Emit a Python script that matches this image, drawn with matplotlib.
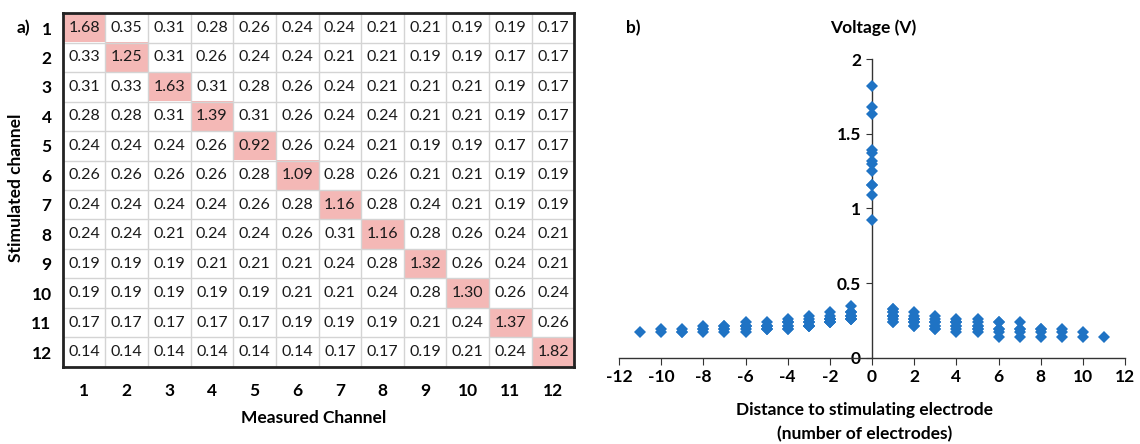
import matplotlib
matplotlib.use("Agg")
import matplotlib.pyplot as plt
import numpy as np

plt.rcParams['font.family'] = ['Lato', 'DejaVu Sans']

# ---- data ----
channels = list(range(1, 13))
voltage = [
    [1.68, 0.35, 0.31, 0.28, 0.26, 0.24, 0.24, 0.21, 0.21, 0.19, 0.19, 0.17],
    [0.33, 1.25, 0.31, 0.26, 0.24, 0.24, 0.21, 0.21, 0.19, 0.19, 0.17, 0.17],
    [0.31, 0.33, 1.63, 0.31, 0.28, 0.26, 0.24, 0.21, 0.21, 0.21, 0.19, 0.17],
    [0.28, 0.28, 0.31, 1.39, 0.31, 0.26, 0.24, 0.24, 0.21, 0.21, 0.19, 0.17],
    [0.24, 0.24, 0.24, 0.26, 0.92, 0.26, 0.24, 0.21, 0.19, 0.19, 0.17, 0.17],
    [0.26, 0.26, 0.26, 0.26, 0.28, 1.09, 0.28, 0.26, 0.21, 0.21, 0.19, 0.19],
    [0.24, 0.24, 0.24, 0.24, 0.26, 0.28, 1.16, 0.28, 0.24, 0.21, 0.19, 0.19],
    [0.24, 0.24, 0.21, 0.24, 0.24, 0.26, 0.31, 1.16, 0.28, 0.26, 0.24, 0.21],
    [0.19, 0.19, 0.19, 0.21, 0.21, 0.21, 0.24, 0.28, 1.32, 0.26, 0.24, 0.21],
    [0.19, 0.19, 0.19, 0.19, 0.19, 0.21, 0.21, 0.24, 0.28, 1.30, 0.26, 0.24],
    [0.17, 0.17, 0.17, 0.17, 0.17, 0.19, 0.19, 0.19, 0.21, 0.24, 1.37, 0.26],
    [0.14, 0.14, 0.14, 0.14, 0.14, 0.14, 0.17, 0.17, 0.19, 0.21, 0.24, 1.82],
]
x_ticks = list(range(-12, 13, 2))
y_ticks = [0, 0.5, 1, 1.5, 2]
y_tick_labels = ['0', '0.5', '1', '1.5', '2']

pink = np.array([0.957, 0.722, 0.714])
white = np.array([1.0, 1.0, 1.0])
blue = '#1F73C4'
LFS = 12.5   # label font size
NFS = 11.5   # number font size

fig = plt.figure(figsize=(11.4, 4.44), dpi=100)

# ---- panel a: matrix ----
M = np.array(voltage)
n = M.shape[0]
img = np.where(np.eye(n, dtype=bool)[:, :, None], pink, white)
ax1 = fig.add_axes([0.055, 0.174, 0.4488, 0.796])
ax1.imshow(img, aspect='auto', interpolation='nearest')
for i in range(n):
    for j in range(n):
        ax1.text(j, i, f"{M[i, j]:.2f}", ha='center', va='center',
                 fontsize=NFS, color='#1a1a1a')
ax1.set_xticks(range(n))
ax1.set_xticklabels([str(c) for c in channels], fontweight='bold', fontsize=LFS)
ax1.set_yticks(range(n))
ax1.set_yticklabels([str(c) for c in channels], fontweight='bold', fontsize=LFS)
ax1.set_xticks(np.arange(-0.5, n, 1), minor=True)
ax1.set_yticks(np.arange(-0.5, n, 1), minor=True)
ax1.grid(which='minor', color='#D4D4D4', linewidth=1)
ax1.tick_params(which='both', length=0)
ax1.tick_params(axis='x', pad=12)
ax1.tick_params(axis='y', pad=8)
for s in ax1.spines.values():
    s.set_linewidth(2)
    s.set_color('#222222')
ax1.set_xlim(-0.5, n - 0.5)
ax1.set_ylim(n - 0.5, -0.5)
fig.text(314 / 1140, 1 - 418 / 444, 'Measured Channel', ha='center', va='center',
         fontweight='bold', fontsize=LFS)
fig.text(16 / 1140, 1 - 188 / 444, 'Stimulated channel', ha='center', va='center',
         rotation=90, fontweight='bold', fontsize=LFS)
fig.text(23 / 1140, 1 - 28 / 444, 'a)', ha='center', va='center',
         fontweight='bold', fontsize=LFS)

# ---- panel b: scatter ----
xs, ys = [], []
for i in range(n):
    for j in range(n):
        xs.append(channels[i] - channels[j])
        ys.append(M[i, j])

ax2 = fig.add_axes([0.543, 0.194, 0.444, 0.673])
ax2.plot(xs, ys, linestyle='none', marker='D', markersize=6.5, color=blue,
         markeredgewidth=0, zorder=3, clip_on=False)
ax2.set_xlim(-12, 12)
ax2.set_ylim(0, 2)
ax2.spines['left'].set_position(('data', 0))
ax2.spines['top'].set_visible(False)
ax2.spines['right'].set_visible(False)
for s in ('left', 'bottom'):
    ax2.spines[s].set_color('#333333')
    ax2.spines[s].set_linewidth(1)
ax2.set_xticks(x_ticks)
ax2.set_xticklabels([str(t) for t in x_ticks], fontweight='bold', fontsize=LFS)
ax2.set_yticks(y_ticks)
ax2.set_yticklabels(y_tick_labels, fontweight='bold', fontsize=LFS)
ax2.tick_params(axis='x', direction='out', length=5, color='#333333', pad=3)
ax2.tick_params(axis='y', direction='out', length=4, color='#333333', pad=4)

fig.text(873 / 1140, 1 - 28 / 444, 'Voltage (V)', ha='center', va='center',
         fontweight='bold', fontsize=LFS)
fig.text(633 / 1140, 1 - 28 / 444, 'b)', ha='center', va='center',
         fontweight='bold', fontsize=LFS)
fig.text(865 / 1140, 1 - 410 / 444, 'Distance to stimulating electrode',
         ha='center', va='center', fontweight='bold', fontsize=LFS)
fig.text(865 / 1140, 1 - 434 / 444, '(number of electrodes)',
         ha='center', va='center', fontweight='bold', fontsize=LFS)

fig.savefig('out.png', dpi=100)
